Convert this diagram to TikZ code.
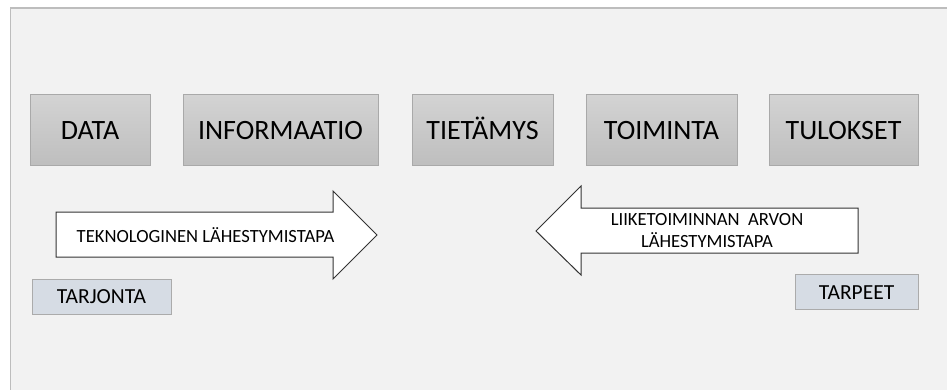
\documentclass[tikz,border=0pt]{standalone}
\usepackage{fontspec}
\setmainfont{Carlito}
\usetikzlibrary{positioning}
\definecolor{bggray}{HTML}{F2F2F2}
\definecolor{framegray}{HTML}{BDBDBD}
\definecolor{boxtop}{HTML}{D3D3D3}
\definecolor{boxbot}{HTML}{BEBEBE}
\definecolor{boxline}{HTML}{A9A9A9}
\definecolor{labfill}{HTML}{D6DCE4}
\definecolor{labline}{HTML}{ABABAB}
\tikzset{
  stagebox/.style={draw=boxline, line width=1pt, top color=boxtop, bottom color=boxbot,
    minimum height=71pt, inner sep=0pt, font=\fontsize{28}{32}\selectfont, text=black,
    text height=18pt, text depth=0pt},
  labbox/.style={draw=labline, line width=1pt, fill=labfill, minimum height=35pt,
    inner sep=0pt, font=\fontsize{21.5}{24}\selectfont, text=black,
    text height=14pt, text depth=0pt},
  bigarrow/.style={draw=black!80, line width=1pt, fill=white},
  arrowtext/.style={font=\fontsize{18.6}{22}\selectfont, align=center, text=black, inner sep=0pt}
}
\begin{document}
\begin{tikzpicture}[x=1pt,y=-1pt]
\useasboundingbox (0,0) rectangle (947,390);
\fill[white] (0,0) rectangle (947,390);
\fill[bggray] (10.5,8) rectangle (947,390);
\draw[framegray, line width=1.5pt] (10.5,390) -- (10.5,8) -- (947,8);

\node[stagebox, minimum width=120pt] (data) at (90,130.5) {DATA};
\node[stagebox, minimum width=195pt] (info) at (280.5,130.5) {INFORMAATIO};
\node[stagebox, minimum width=141pt] (tieto) at (482.5,130.5) {TIETÄMYS};
\node[stagebox, minimum width=151pt] (toim) at (661.5,130.5) {TOIMINTA};
\node[stagebox, minimum width=149pt] (tulos) at (843.5,130.5) {TULOKSET};

\draw[bigarrow] (56,212) -- (333,212) -- (333,191) -- (377,235) -- (333,279) -- (333,257) -- (56,257) -- cycle;
\node[arrowtext] (tek) at (205.5,235) {TEKNOLOGINEN LÄHESTYMISTAPA};

\draw[bigarrow] (858,208) -- (581,208) -- (581,186) -- (536,231) -- (581,275) -- (581,253) -- (858,253) -- cycle;
\node[arrowtext] (liike) at (707,231) {LIIKETOIMINNAN\ \ ARVON\\LÄHESTYMISTAPA};

\node[labbox, minimum width=139pt] (tarj) at (101.5,296.5) {TARJONTA};
\node[labbox, minimum width=123pt] (tarp) at (856.5,292) {TARPEET};
\end{tikzpicture}
\end{document}
